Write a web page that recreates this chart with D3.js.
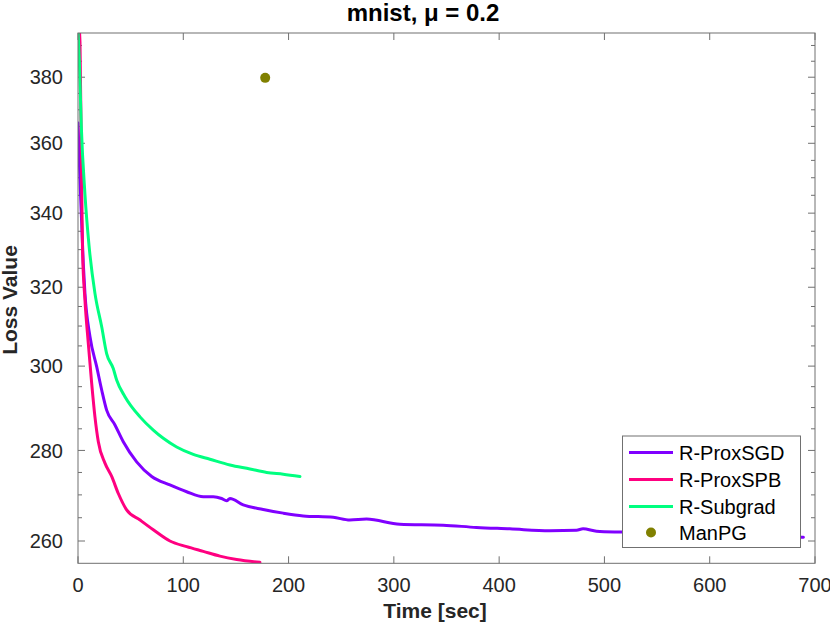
<!DOCTYPE html>
<html>
<head>
<meta charset="utf-8">
<script src="https://cdn.jsdelivr.net/npm/d3@7"></script>
<style>
  body { margin: 0; background: #fff; }
  text { font-family: "Liberation Sans", Arial, Helvetica, sans-serif; }
</style>
</head>
<body>
<svg id="chart" width="830" height="625"></svg>
<script>
// ---- data ----
var sgdTime = [0, 1.9, 5, 6.6, 11.4, 17.8, 22.5, 27.2, 35.1, 43, 55.7, 70, 87.3, 103.2, 119, 128.5, 136.4, 141.2, 144.3, 156.9, 175.9, 194.9, 213.9, 242.4, 258.2, 274.1, 305.7, 346.8, 378.5, 410.1, 448.1, 473.5, 479.7, 492.5, 517.7, 560, 620, 689];
var sgdLoss = [366, 349.3, 326.4, 318.4, 307.3, 299.8, 294.2, 289.4, 285.9, 282, 277.4, 274.1, 272.2, 270.7, 269.6, 269.6, 269.2, 268.7, 269.2, 267.8, 266.8, 266, 265.4, 265.1, 264.5, 264.7, 263.6, 263.4, 262.9, 262.6, 262.2, 262.3, 262.6, 262.1, 261.9, 261.6, 261.2, 260.8];

var spbTime = [0, 1.9, 3.1, 4.3, 6.6, 9.8, 13, 16.1, 19.3, 25.6, 32, 38.3, 46.2, 58.9, 71.5, 87.3, 103.2, 119, 134.8, 150.7, 172.8];
var spbLoss = [400, 391, 358, 329.9, 316.7, 305.6, 295.8, 287.8, 282, 277.1, 274.1, 270.3, 266.7, 264.5, 262.4, 260, 258.8, 257.8, 256.8, 256.1, 255.5];

var subTime = [0, 1.2, 3.1, 6.6, 10.5, 16.1, 22.5, 27.2, 33.5, 36.7, 44.6, 58.9, 71.5, 81, 93.7, 109.5, 125.3, 144.3, 163.3, 179.2, 194.9, 210.8];
var subLoss = [395, 385.9, 365.3, 345.3, 331, 318.4, 309.8, 303.1, 299.4, 296.6, 292.6, 287.8, 284.7, 282.8, 280.8, 279.1, 278, 276.7, 275.8, 275, 274.6, 274.1];

var manpgTime = [177.8];
var manpgLoss = [379.8];

var seriesNames = ["R-ProxSGD", "R-ProxSPB", "R-Subgrad", "ManPG"];
var seriesColors = ["#8000ff", "#ff0080", "#00ff80", "#808000"];

var xTicks = [0, 100, 200, 300, 400, 500, 600, 700];
var yTicks = [260, 280, 300, 320, 340, 360, 380];
var yMinor = d3.range(260, 395, 5).filter(function(v) { return v % 20 !== 0; });

// ---- layout ----
var pLeft = 78, pRight = 815, pTop = 33, pBottom = 563.3;

var svg = d3.select("#chart");

var x = d3.scaleLinear().domain([0, 700]).range([pLeft, pRight]);
var y = d3.scaleLog().domain([255.3, 394]).range([pBottom, pTop]);

svg.append("defs").append("clipPath").attr("id", "plotclip")
  .append("rect")
    .attr("x", pLeft).attr("y", pTop)
    .attr("width", pRight - pLeft).attr("height", pBottom - pTop);

var axisColor = "#707070";
var labelColor = "#262626";

// ticks (inward, on all four sides)
var tickG = svg.append("g").attr("stroke", axisColor).attr("stroke-width", 1);
xTicks.forEach(function(t) {
  tickG.append("line").attr("x1", x(t)).attr("x2", x(t)).attr("y1", pBottom).attr("y2", pBottom - 7);
  tickG.append("line").attr("x1", x(t)).attr("x2", x(t)).attr("y1", pTop).attr("y2", pTop + 7);
});
yTicks.forEach(function(v) {
  tickG.append("line").attr("x1", pLeft).attr("x2", pLeft + 7).attr("y1", y(v)).attr("y2", y(v));
  tickG.append("line").attr("x1", pRight).attr("x2", pRight - 7).attr("y1", y(v)).attr("y2", y(v));
});
yMinor.forEach(function(v) {
  tickG.append("line").attr("x1", pLeft).attr("x2", pLeft + 4).attr("y1", y(v)).attr("y2", y(v));
  tickG.append("line").attr("x1", pRight).attr("x2", pRight - 4).attr("y1", y(v)).attr("y2", y(v));
});

// tick labels
svg.append("g").selectAll("text").data(xTicks).enter().append("text")
    .attr("x", function(d) { return x(d); })
    .attr("y", 592)
    .attr("text-anchor", "middle")
    .attr("font-size", 20)
    .attr("fill", labelColor)
    .text(function(d) { return d; });

svg.append("g").selectAll("text").data(yTicks).enter().append("text")
    .attr("x", 63)
    .attr("y", function(d) { return y(d); })
    .attr("dy", "0.36em")
    .attr("text-anchor", "end")
    .attr("font-size", 20)
    .attr("fill", labelColor)
    .text(function(d) { return d; });

// curves
var line = d3.line()
    .curve(d3.curveMonotoneX)
    .x(function(d) { return x(d[0]); })
    .y(function(d) { return y(d[1]); });

var plot = svg.append("g").attr("clip-path", "url(#plotclip)");
var curves = [
  d3.zip(sgdTime, sgdLoss),
  d3.zip(spbTime, spbLoss),
  d3.zip(subTime, subLoss)
];
curves.forEach(function(c, i) {
  plot.append("path")
      .datum(c)
      .attr("d", line)
      .attr("fill", "none")
      .attr("stroke", seriesColors[i])
      .attr("stroke-width", 3)
      .attr("stroke-linejoin", "round")
      .attr("stroke-linecap", "round");
});

plot.selectAll(".dot").data(d3.zip(manpgTime, manpgLoss)).enter().append("circle")
    .attr("class", "dot")
    .attr("cx", function(d) { return x(d[0]); })
    .attr("cy", function(d) { return y(d[1]); })
    .attr("r", 5)
    .attr("fill", seriesColors[3]);

// box
svg.append("rect")
    .attr("x", pLeft).attr("y", pTop)
    .attr("width", pRight - pLeft).attr("height", pBottom - pTop)
    .attr("fill", "none")
    .attr("stroke", axisColor)
    .attr("stroke-width", 1);

// legend
var lg = svg.append("g");
lg.append("rect")
    .attr("x", 622.5).attr("y", 436)
    .attr("width", 178).attr("height", 111.5)
    .attr("fill", "#fff")
    .attr("stroke", axisColor)
    .attr("stroke-width", 1);
var legY = [452.5, 479.5, 506.5, 532.5];
seriesNames.forEach(function(name, i) {
  if (i < 3) {
    lg.append("line")
        .attr("x1", 629).attr("x2", 673)
        .attr("y1", legY[i]).attr("y2", legY[i])
        .attr("stroke", seriesColors[i])
        .attr("stroke-width", 3);
  } else {
    lg.append("circle")
        .attr("cx", 651).attr("cy", legY[i])
        .attr("r", 5)
        .attr("fill", seriesColors[i]);
  }
  lg.append("text")
      .attr("x", 679).attr("y", legY[i])
      .attr("dy", "0.36em")
      .attr("font-size", 20)
      .attr("fill", "#000")
      .text(name);
});

// titles
svg.append("text")
    .attr("x", 423).attr("y", 21)
    .attr("text-anchor", "middle")
    .attr("font-size", 24)
    .attr("font-weight", "bold")
    .text("mnist, \u03bc = 0.2");

svg.append("text")
    .attr("x", 435).attr("y", 618)
    .attr("text-anchor", "middle")
    .attr("font-size", 21)
    .attr("font-weight", "bold")
    .attr("fill", labelColor)
    .text("Time [sec]");

svg.append("text")
    .attr("transform", "translate(17,300) rotate(-90)")
    .attr("text-anchor", "middle")
    .attr("font-size", 21)
    .attr("font-weight", "bold")
    .attr("fill", labelColor)
    .text("Loss Value");
</script>
</body>
</html>
